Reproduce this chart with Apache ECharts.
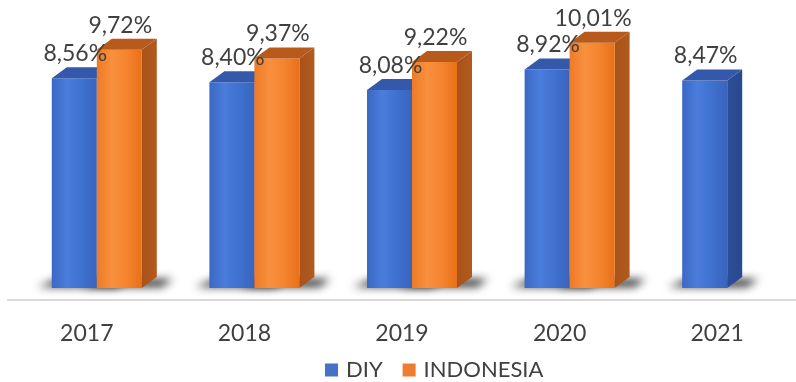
<!DOCTYPE html>
<html><head><meta charset="utf-8">
<script src="https://cdn.jsdelivr.net/npm/echarts@6/dist/echarts.min.js"></script>
<style>html,body{margin:0;padding:0;background:#fff}#c{width:796px;height:382px}</style>
</head><body><div id="c"></div>
<script>
const categories = ['2017', '2018', '2019', '2020', '2021'];
const diyValues = [8.56, 8.40, 8.08, 8.92, 8.47];
const indonesiaValues = [9.72, 9.37, 9.22, 10.01, null];
const seriesNames = ['DIY', 'INDONESIA'];

const chart = echarts.init(document.getElementById('c'));
const DX = 15, DY = -11, W = 45, FAR = 2000;
const FONT = 'Lato, "Open Sans", sans-serif';
function fmt(v) { return v.toFixed(2).replace('.', ',') + '%'; }
function lg(stops) {
  return new echarts.graphic.LinearGradient(0, 0, 1, 0, stops.map((c, i) => ({ offset: i / (stops.length - 1), color: c })));
}
const palettes = {
  diy: { front: ['#3a68c4', '#4a7ddc', '#3f71cf', '#3964bd'], top: '#3458aa', side: ['#2c4d98', '#2a4890'], z: 1 },
  ind: { front: ['#ee7a26', '#f8903e', '#f5842e', '#e87018'], top: '#b85a1c', side: ['#a9521a', '#b25a1e'], z: 2 }
};
function make3D(offset, pal) {
  return function (params, api) {
    const idx = api.value(0);
    const v = api.value(1);
    if (v == null || isNaN(v)) return;
    const top = api.coord([idx, v]);
    const base = api.coord([idx, 0]);
    const x0 = top[0] + offset, x1 = x0 + W;
    const yt = top[1], yb = base[1];
    return {
      type: 'group', children: [
        { type: 'polygon', z2: 0, silent: true,
          shape: { points: [[x0 - 14 - FAR, yb - 1], [x1 + 20 - FAR, yb - 1], [x1 + DX + 16 - FAR, yb + DY + 2], [x0 + DX - 10 - FAR, yb + DY + 2]] },
          style: { fill: '#000', shadowBlur: 8, shadowColor: 'rgba(20,20,20,0.85)', shadowOffsetX: FAR, shadowOffsetY: 0 } },
        { type: 'polygon', z2: pal.z, shape: { points: [[x1, yb], [x1 + DX, yb + DY], [x1 + DX, yt + DY], [x1, yt]] },
          style: { fill: lg(pal.side) } },
        { type: 'rect', z2: pal.z, shape: { x: x0, y: yt, width: W, height: yb - yt },
          style: { fill: lg(pal.front) } },
        { type: 'polygon', z2: pal.z, shape: { points: [[x0, yt], [x0 + DX, yt + DY], [x1 + DX, yt + DY], [x1, yt]] },
          style: { fill: pal.top } },
        { type: 'text', z2: 10, x: x0 + W / 2 + 1, y: yt + DY - 2,
          style: { text: fmt(v), fill: '#404040', font: '23px ' + FONT, textAlign: 'center', textVerticalAlign: 'bottom' } }
      ]
    };
  };
}
chart.setOption({
  animation: false,
  grid: { left: 8, right: -3, top: 0, bottom: 82 },
  legend: {
    data: [
      { name: seriesNames[0], itemStyle: { color: '#4472c4' } },
      { name: seriesNames[1], itemStyle: { color: '#ed7d31' } }
    ],
    left: 320, top: 354, icon: 'rect', itemWidth: 13, itemHeight: 13, itemGap: 20,
    textStyle: { fontFamily: FONT, fontSize: 22, color: '#404040', padding: [0, 0, 0, 3] }
  },
  xAxis: {
    type: 'category', data: categories,
    axisLine: { show: true, onZero: false, lineStyle: { color: '#d9d9d9', width: 2 } },
    axisTick: { show: false },
    axisLabel: { fontFamily: FONT, fontSize: 23, color: '#404040', margin: 22 }
  },
  yAxis: { type: 'value', min: -0.49, max: 11.755, show: false, splitLine: { show: false } },
  series: [
    { name: seriesNames[0], type: 'custom', itemStyle: { color: '#4472c4' }, encode: { x: 0, y: 1 },
      data: categories.map((c, i) => [i, diyValues[i]]), renderItem: make3D(-35, palettes.diy) },
    { name: seriesNames[1], type: 'custom', itemStyle: { color: '#ed7d31' }, encode: { x: 0, y: 1 },
      data: categories.map((c, i) => [i, indonesiaValues[i] == null ? NaN : indonesiaValues[i]]), renderItem: make3D(10, palettes.ind) }
  ]
});
</script></body></html>
